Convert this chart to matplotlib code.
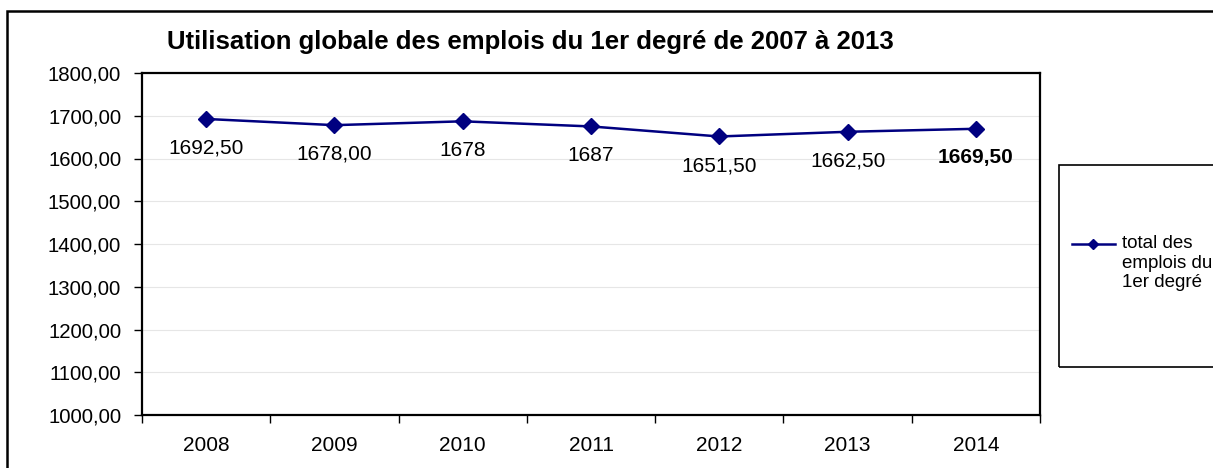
import numpy as np
import matplotlib.pyplot as plt
from matplotlib.patches import Rectangle
from matplotlib.lines import Line2D

plt.rcParams['font.family'] = ['Liberation Sans', 'DejaVu Sans']

# data
years = ['2008', '2009', '2010', '2011', '2012', '2013', '2014']
values = [1692.5, 1678.0, 1687.0, 1675.0, 1651.5, 1662.5, 1669.5]
point_labels = ['1692,50', '1678,00', '1678', '1687', '1651,50', '1662,50', '1669,50']
yticks = [1000, 1100, 1200, 1300, 1400, 1500, 1600, 1700, 1800]
series_name = 'total des\nemplois du\n1er degré'

navy = '#000080'
W, H = 1213, 468

fig = plt.figure(figsize=(W / 100, H / 100), dpi=100)

# outer chart frame (cut off at right and bottom)
fig.patches.append(Rectangle((7 / W, -0.05), 1.2, 1 - 11 / H + 0.05,
                             transform=fig.transFigure, fill=False,
                             edgecolor='black', linewidth=1.8))

ax = fig.add_axes([142 / W, 1 - 415 / H, 898 / W, 342 / H])
x = np.arange(len(years))
ax.plot(x, values, color=navy, linewidth=1.8, marker='D', markersize=8,
        markerfacecolor=navy, markeredgecolor=navy)

for i, (v, lab) in enumerate(zip(values, point_labels)):
    weight = 'bold' if i == len(values) - 1 else 'normal'
    ax.annotate(lab, (x[i], v), xytext=(0, -21), textcoords='offset points',
                ha='center', va='center', fontsize=15, fontweight=weight)

ax.set_xlim(-0.5, len(years) - 0.5)
ax.set_ylim(1000, 1800)
ax.set_yticks(yticks)
ax.set_yticklabels([f'{t},00' for t in yticks], fontsize=14.7)
ax.set_xticks(x)
ax.set_xticklabels(years, fontsize=15)
ax.set_xticks(np.arange(-0.5, len(years)), minor=True)
ax.tick_params(axis='x', which='major', length=0, pad=15)
ax.tick_params(axis='x', which='minor', length=6, width=1, direction='out')
ax.tick_params(axis='y', length=6, width=1, direction='out', pad=9)
ax.grid(axis='y', color='#e6e6e6', linewidth=0.8)
ax.set_axisbelow(True)
for s in ax.spines.values():
    s.set_linewidth(1.6)
    s.set_color('black')

fig.text(167 / W, 1 - 42 / H,
         'Utilisation globale des emplois du 1er degré de 2007 à 2013',
         ha='left', va='center', fontsize=18.5, fontweight='bold')

# legend box, drawn by hand so the key sits on the first text line
fig.patches.append(Rectangle((1059 / W, 1 - 367 / H), 0.2, 202 / H,
                             transform=fig.transFigure, fill=False,
                             edgecolor='black', linewidth=1.2))
fig.add_artist(Line2D([1072 / W, 1115 / W], [1 - 244 / H, 1 - 244 / H],
                      transform=fig.transFigure, color=navy, linewidth=1.8))
fig.add_artist(Line2D([1093 / W], [1 - 244 / H], transform=fig.transFigure,
                      color=navy, marker='D', markersize=5.5, linestyle='none'))
fig.text(1122 / W, 1 - 235 / H, series_name, ha='left', va='top',
         fontsize=13.5, linespacing=1.2)

fig.savefig('out.png', dpi=100)
